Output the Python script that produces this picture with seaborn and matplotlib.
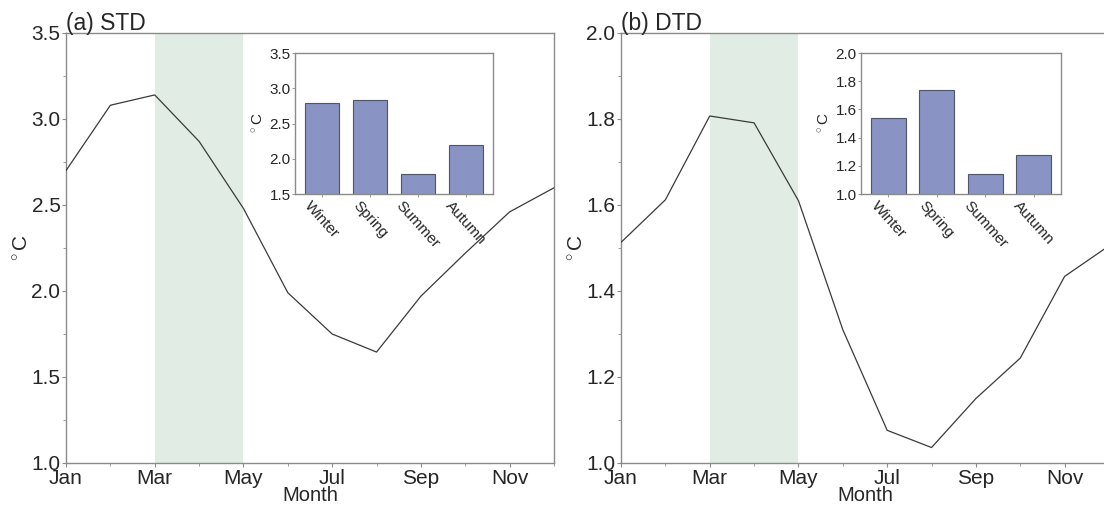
import numpy as np
import pandas as pd
import seaborn as sns
import matplotlib
matplotlib.use("Agg")
import matplotlib.pyplot as plt
from matplotlib.ticker import MultipleLocator

# ---- data ----
months = list(range(1, 13))
month_tick_pos = [1, 3, 5, 7, 9, 11]
month_tick_labels = ["Jan", "Mar", "May", "Jul", "Sep", "Nov"]
std_monthly = [2.70, 3.08, 3.14, 2.87, 2.48, 1.99, 1.75, 1.645, 1.97, 2.22, 2.46, 2.60]
dtd_monthly = [1.513, 1.612, 1.807, 1.791, 1.61, 1.31, 1.076, 1.036, 1.15, 1.244, 1.434, 1.505]
seasons = ["Winter", "Spring", "Summer", "Autumn"]
std_seasonal = [2.79, 2.83, 1.79, 2.20]
dtd_seasonal = [1.537, 1.735, 1.139, 1.274]
panel_titles = ["(a) STD", "(b) DTD"]
xlabel = "Month"
ylabel = "$^\\circ$C"

sns.set_theme(style="white")
plt.rcParams["font.family"] = ["Liberation Sans", "DejaVu Sans"]
plt.rcParams["mathtext.fontset"] = "custom"
plt.rcParams["mathtext.rm"] = "Liberation Sans"
plt.rcParams["mathtext.it"] = "Liberation Sans"

fig = plt.figure(figsize=(11.04, 5.09), dpi=100)

W, H = 1104, 509
def rect(x0, y0, x1, y1):
    return [x0 / W, 1 - y1 / H, (x1 - x0) / W, (y1 - y0) / H]

main_rects = [rect(66, 33, 554, 463), rect(621, 33, 1109, 463)]
inset_rects = [rect(295, 53, 493, 194), rect(861, 53, 1061, 194)]
ylims = [(1.0, 3.5), (1.0, 2.0)]
ymajor = [0.5, 0.2]
inset_ylims = [(1.5, 3.5), (1.0, 2.0)]
inset_major = [0.5, 0.2]

spine_col = "#8a8a8a"
bar_col = "#8993c4"
shade_col = "#e1ede4"

datasets = [(std_monthly, std_seasonal), (dtd_monthly, dtd_seasonal)]
for i, (monthly, seasonal) in enumerate(datasets):
    ax = fig.add_axes(main_rects[i])
    ax.axvspan(3, 5, color=shade_col, lw=0, zorder=0)
    df = pd.DataFrame({"month": months, "val": monthly})
    sns.lineplot(data=df, x="month", y="val", ax=ax, color="#3a3a3a", lw=0.9, zorder=3)
    ax.set_xlim(1, 12)
    ax.set_ylim(*ylims[i])
    ax.yaxis.set_major_locator(MultipleLocator(ymajor[i]))
    ax.yaxis.set_minor_locator(MultipleLocator(ymajor[i] / 2))
    ax.set_xticks(month_tick_pos)
    ax.set_xticklabels(month_tick_labels)
    ax.set_xticks(months, minor=True)
    ax.tick_params(axis="both", which="major", labelsize=15, length=3, width=0.8,
                   color=spine_col, pad=1, direction="out", bottom=True, left=True)
    ax.tick_params(axis="both", which="minor", length=2, width=0.6, color=spine_col,
                   bottom=True, left=True, direction="out")
    ax.set_xlabel(xlabel, fontsize=14.5, labelpad=-1)
    ax.set_ylabel(ylabel, fontsize=15, labelpad=0)
    for s in ax.spines.values():
        s.set_color(spine_col)
        s.set_linewidth(1.0)
    ax.text(0.0, 0.995, panel_titles[i], transform=ax.transAxes, fontsize=16.5,
            ha="left", va="bottom")

    ins = fig.add_axes(inset_rects[i])
    sdf = pd.DataFrame({"season": seasons, "val": seasonal})
    sns.barplot(data=sdf, x="season", y="val", ax=ins, color=bar_col, width=0.72,
                edgecolor="#505668", linewidth=0.8, saturation=1)
    ins.set_xlim(-0.56, 3.56)
    ins.set_ylim(*inset_ylims[i])
    ins.yaxis.set_major_locator(MultipleLocator(inset_major[i]))
    ins.set_xlabel("")
    ins.set_ylabel(ylabel, fontsize=11, labelpad=3)
    ins.tick_params(axis="both", which="major", labelsize=11, length=2, width=0.6,
                    color=spine_col, pad=1, direction="out", bottom=True, left=True)
    plt.setp(ins.get_xticklabels(), rotation=-48, ha="center", va="top")
    for s in ins.spines.values():
        s.set_color(spine_col)
        s.set_linewidth(1.0)

fig.savefig("out.png", dpi=100)
